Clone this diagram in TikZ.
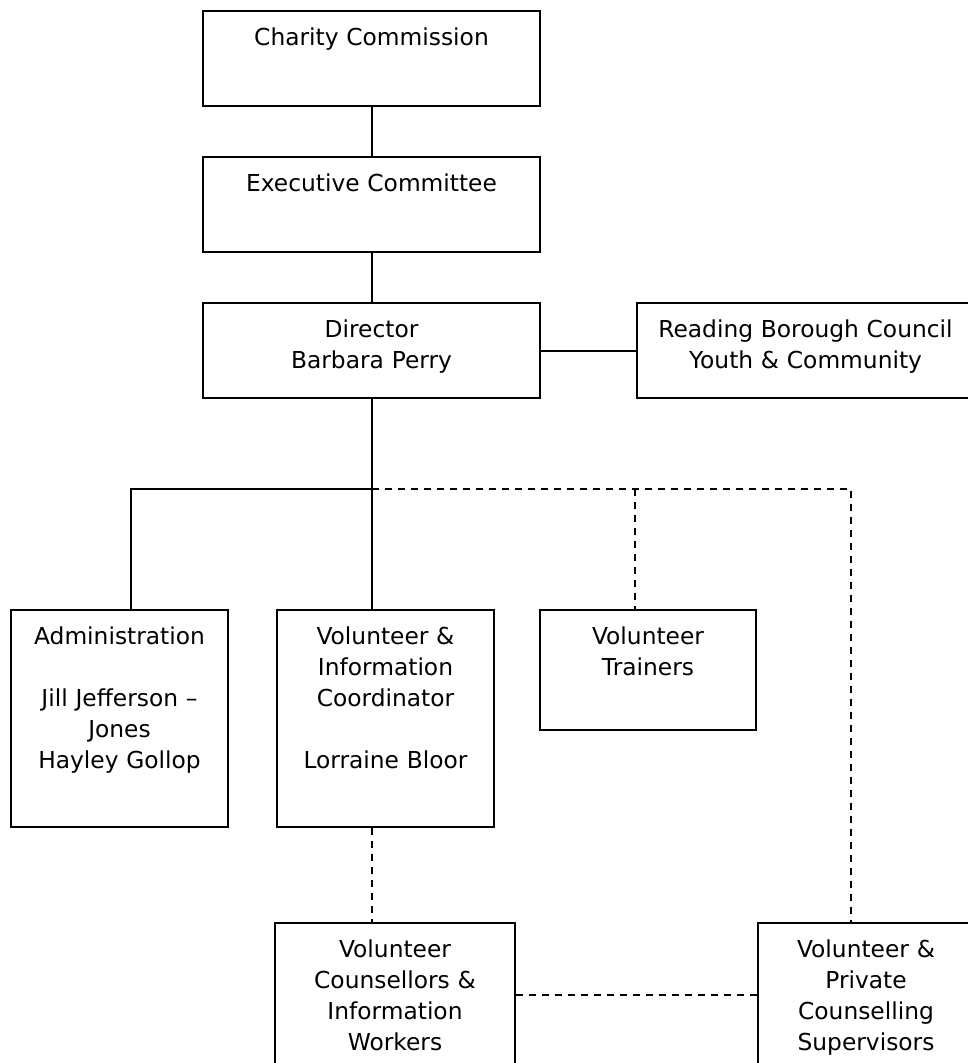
\documentclass[tikz,border=0pt]{standalone}
\usepackage{fontspec}
\setmainfont{DejaVu Sans}
\usetikzlibrary{positioning}

\begin{document}
\begin{tikzpicture}[x=0.75pt,y=-0.75pt,line width=1.5pt,node distance=36.75pt]
  \tikzstyle{post}=[draw,inner sep=0pt,align=center,text height=25.9pt,
                    font=\fontsize{17.5}{23.25}\selectfont]
  \tikzstyle{top post}=[post,text width=252.75pt,text depth=45.35pt]
  \tikzstyle{staff post}=[post,text width=162.75pt,text depth=136.85pt]
  \tikzstyle{team post}=[post,text width=180pt,text depth=82.1pt]
  \tikzstyle{loose link}=[dash pattern=on 5.25pt off 4.5pt]

  \useasboundingbox (0,0) rectangle (967,1063);

  % management line
  \node[top post,anchor=north west] (Charity) at (202,10) {Charity Commission};
  \node[top post]   (Executive)   [below=of Charity]          {Executive Committee};
  \node[top post]   (Director)    [below=of Executive]        {Director\\Barbara Perry};
  \node[top post]   (Council)     [right=71.25pt of Director] {Reading Borough Council\\Youth \& Community};

  % staff
  \node[staff post,anchor=north west] (Admin) at (10,609)
        {Administration\\[23.25pt]Jill Jefferson –\\Jones\\Hayley Gollop};
  \node[staff post] (Coordinator) [right=35.25pt of Admin]
        {Volunteer \&\\Information\\Coordinator\\[23.25pt]Lorraine Bloor};
  \node[post,text width=162pt,text depth=64.1pt,anchor=north west] (Trainers) at (539,609)
        {Volunteer\\Trainers};

  % volunteers
  \node[team post,anchor=north west] (Counsellors) at (274,922)
        {Volunteer\\Counsellors \&\\Information\\Workers};
  \node[team post,text width=162pt] (Supervisors) [right=180.75pt of Counsellors]
        {Volunteer \&\\Private\\Counselling\\Supervisors};

  \coordinate (hub)    at (Director.south |- 0,489);
  \coordinate (tee)    at (635,489);
  \coordinate (corner) at (851,489);

  \path (Charity)   edge (Executive)
        (Executive) edge (Director)
        (Director)  edge (Council)
        (Director)  edge (Director.south |- Coordinator.north);
  \draw (hub) -| ([xshift=8.6pt]Admin.north);

  \draw[loose link] (hub) -- (corner) -- (corner |- Supervisors.north);
  \draw[loose link] (tee) -- (tee |- Trainers.north);
  \draw[loose link] (Coordinator.south -| hub) -- (Counsellors.north -| hub);
  \draw[loose link] (Counsellors) -- (Supervisors);
\end{tikzpicture}
\end{document}
